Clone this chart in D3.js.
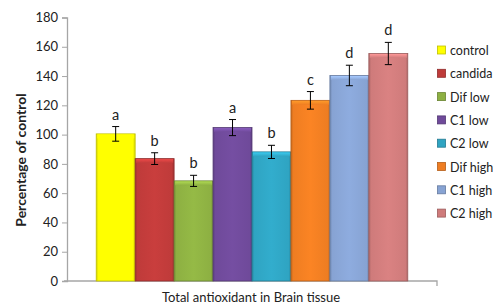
<!DOCTYPE html>
<html><head><meta charset="utf-8">
<script src="https://cdn.jsdelivr.net/npm/d3@7"></script>
<style>body{margin:0;background:#fff;overflow:hidden}</style>
</head><body><svg id="c" width="493" height="307"></svg>
<script>
const series = ["control","candida","Dif low","C1 low","C2 low","Dif high","C1 high","C2 high"];
const values = [100.5, 83.6, 68.4, 104.8, 88.2, 123.4, 140.4, 155.4];
const errors = [5, 4, 3.8, 5.5, 4.5, 6, 7, 7.6];
const letters = ["a","b","b","a","b","c","d","d"];
const colors = ["#FFFF00","#BF3B3A","#8DB042","#6F4A9A","#2FA4C2","#EE7D22","#87A3D3","#CF7B7B"];
const yTicks = [0,20,40,60,80,100,120,140,160,180];
const category = ["Total antioxidant in Brain tissue"];

const svg = d3.select("#c");
const font = "Lato, 'Open Sans', sans-serif";
const m = {l:67, r:437, t:17.5, b:281};
const y = d3.scaleLinear().domain([0,180]).range([m.b, m.t]);
const xCat = d3.scaleBand().domain(category).range([m.l, m.r]).paddingInner(0).paddingOuter(0);
const inner = xCat.bandwidth()/(8 + 1.5);
const x = d3.scaleBand().domain(series).range([xCat(category[0]) + inner*0.75, xCat(category[0]) + xCat.bandwidth() - inner*0.75]).padding(0);

const defs = svg.append("defs");
colors.forEach((c,i)=>{
  const g = defs.append("linearGradient").attr("id","g"+i).attr("x1",0).attr("x2",1).attr("y1",0).attr("y2",0);
  const d = d3.color(c).darker(0.5), l = d3.color(c).brighter(0.15);
  g.append("stop").attr("offset","0%").attr("stop-color",d);
  g.append("stop").attr("offset","6%").attr("stop-color",c);
  g.append("stop").attr("offset","50%").attr("stop-color",l);
  g.append("stop").attr("offset","94%").attr("stop-color",c);
  g.append("stop").attr("offset","100%").attr("stop-color",d);
  const t = defs.append("linearGradient").attr("id","t"+i).attr("x1",0).attr("x2",0).attr("y1",0).attr("y2",1);
  t.append("stop").attr("offset","0%").attr("stop-color",d3.color(c).brighter(0.6));
  t.append("stop").attr("offset","100%").attr("stop-color",c);
});

// y axis
const ya = svg.append("g").attr("transform",`translate(${m.l},0)`)
  .call(d3.axisLeft(y).tickValues(yTicks).tickSize(5).tickPadding(4));
ya.select(".domain").attr("stroke","#a6a6a6").attr("stroke-width",1.3);
ya.selectAll(".tick line").attr("stroke","#a6a6a6");
ya.selectAll("text").attr("font-family",font).attr("font-size",13).attr("fill","#222");

// x axis
const xa = svg.append("g").attr("transform",`translate(0,${m.b})`)
  .call(d3.axisBottom(xCat).tickSize(0).tickFormat(""));
xa.select(".domain").attr("stroke","#a6a6a6").attr("stroke-width",1.3).attr("d",`M${m.l-3},0H${m.r}V5`);

// bars
const bars = svg.append("g");
series.forEach((s,i)=>{
  const bx = x(s), bw = x.bandwidth(), top = y(values[i]);
  bars.append("rect").attr("x",bx).attr("y",top).attr("width",bw).attr("height",m.b-top)
    .attr("fill",`url(#g${i})`).attr("stroke",d3.color(colors[i]).darker(0.8)).attr("stroke-width",0.8);
  bars.append("rect").attr("x",bx+1).attr("y",top+0.5).attr("width",bw-2).attr("height",4)
    .attr("fill",`url(#t${i})`);
  const cx = bx + bw/2, e1 = y(values[i]+errors[i]), e0 = y(values[i]-errors[i]);
  bars.append("line").attr("x1",cx).attr("x2",cx).attr("y1",e1).attr("y2",e0).attr("stroke","#000").attr("stroke-width",1);
  bars.append("line").attr("x1",cx-3.5).attr("x2",cx+3.5).attr("y1",e1).attr("y2",e1).attr("stroke","#000").attr("stroke-width",1);
  bars.append("line").attr("x1",cx-3.5).attr("x2",cx+3.5).attr("y1",e0).attr("y2",e0).attr("stroke","#000").attr("stroke-width",1);
  svg.append("text").attr("x",cx).attr("y",e1-7).attr("text-anchor","middle")
    .attr("font-family",font).attr("font-size",14.5).attr("fill","#222").text(letters[i]);
});

// axis titles
svg.append("text").attr("transform",`translate(26,160) rotate(-90)`).attr("text-anchor","middle")
  .attr("font-family",font).attr("font-size",14).attr("font-weight","bold").attr("fill","#222").text("Percentage of control");
svg.append("text").attr("x",251).attr("y",302).attr("text-anchor","middle")
  .attr("font-family",font).attr("font-size",13).attr("fill","#222").text(category[0]);

// legend
const lg = svg.append("g");
series.forEach((s,i)=>{
  const ly = 50 + i*23.3;
  lg.append("rect").attr("x",437.5).attr("y",ly-4).attr("width",8).attr("height",8)
    .attr("fill",colors[i]).attr("stroke",d3.color(colors[i]).darker(0.8)).attr("stroke-width",0.8);
  lg.append("text").attr("x",450).attr("y",ly+5).attr("font-family",font).attr("font-size",12.5).attr("fill","#222").text(s);
});
</script></body></html>
